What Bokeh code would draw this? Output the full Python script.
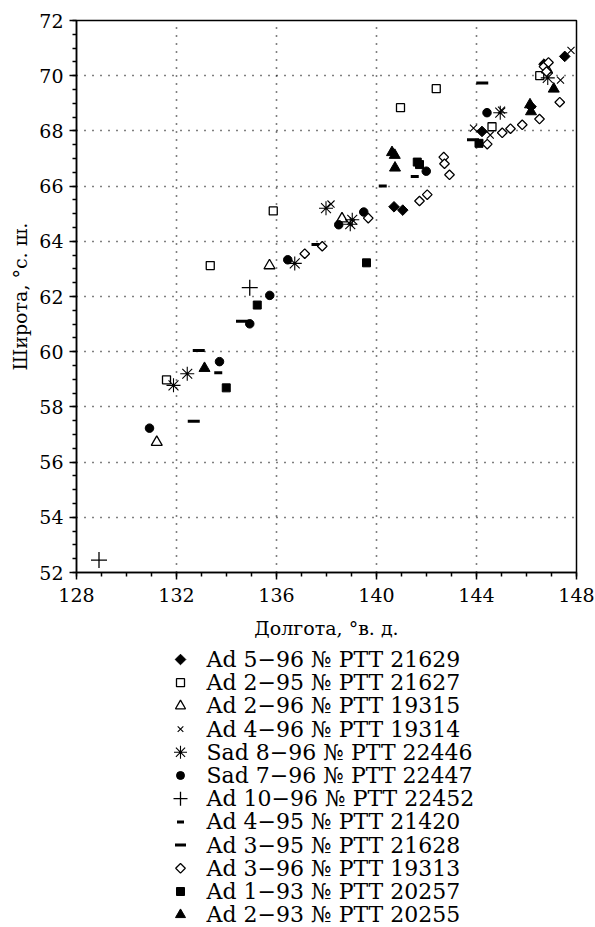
import math
from bokeh.plotting import figure
from bokeh.layouts import column
from bokeh.models import FixedTicker
from bokeh.core.properties import value
from bokeh.embed import file_html
from bokeh.resources import INLINE

FONT = "DejaVu Serif"

# ---- data (longitude °E, latitude °N) ----
ad5_96_lon = [140.70, 141.05, 144.22, 146.18, 146.70, 147.53]
ad5_96_lat = [65.25, 65.13, 67.98, 68.88, 70.42, 70.70]

ad2_95_lon = [131.60, 133.35, 135.87, 140.96, 142.39, 144.62, 146.53]
ad2_95_lat = [58.98, 63.12, 65.10, 68.84, 69.53, 68.15, 70.00]

ad2_96_lon = [131.21, 135.72, 138.62, 146.82]
ad2_96_lat = [56.72, 63.12, 64.82, 70.22]

ad4_96_lon = [138.18, 143.88, 144.55, 145.00, 147.36, 147.78]
ad4_96_lat = [65.35, 68.10, 67.85, 68.75, 69.84, 70.92]

sad8_96_lon = [131.88, 132.43, 136.73, 137.98, 139.03, 138.95, 144.95, 146.85]
sad8_96_lat = [58.78, 59.20, 63.20, 65.20, 64.78, 64.62, 68.66, 69.92]

sad7_96_lon = [130.92, 133.72, 134.93, 135.73, 136.45, 138.49, 139.49, 141.99, 144.42]
sad7_96_lat = [57.23, 59.64, 61.01, 62.04, 63.33, 64.60, 65.06, 66.54, 68.66]

ad10_96_lon = [128.90, 134.93]
ad10_96_lat = [52.45, 62.32]

ad4_95_lon = [133.67, 137.56, 140.25, 141.53]
ad4_95_lat = [59.24, 63.88, 66.00, 66.35]

ad3_95_lon = [132.69, 132.89, 134.62, 143.86, 144.23]
ad3_95_lat = [57.48, 60.04, 61.10, 67.68, 69.74]

ad3_96_lon = [137.13, 137.83, 139.67, 141.72, 142.03, 142.69, 142.72, 142.92, 144.43,
              145.03, 145.36, 145.83, 146.52, 147.33, 146.70, 146.88, 146.80]
ad3_96_lat = [63.55, 63.82, 64.84, 65.46, 65.69, 67.05, 66.81, 66.41, 67.52,
              67.93, 68.08, 68.22, 68.43, 69.04, 70.33, 70.48, 70.15]

ad1_93_lon = [133.99, 135.23, 139.60, 141.63, 141.72, 144.10]
ad1_93_lat = [58.69, 61.69, 63.22, 66.87, 66.78, 67.55]

ad2_93_lon = [133.12, 140.62, 140.73, 140.74, 146.14, 146.18, 147.09]
ad2_93_lat = [59.40, 67.22, 67.12, 66.66, 68.95, 68.70, 69.52]

x_ticks = [128, 132, 136, 140, 144, 148]
y_ticks = [52, 54, 56, 58, 60, 62, 64, 66, 68, 70, 72]

labels = [
    "Ad 5\u221296 \u2116 PTT 21629",
    "Ad 2\u221295 \u2116 PTT 21627",
    "Ad 2\u221296 \u2116 PTT 19315",
    "Ad 4\u221296 \u2116 PTT 19314",
    "Sad 8\u221296 \u2116 PTT 22446",
    "Sad 7\u221296 \u2116 PTT 22447",
    "Ad 10\u221296 \u2116 PTT 22452",
    "Ad 4\u221295 \u2116 PTT 21420",
    "Ad 3\u221295 \u2116 PTT 21628",
    "Ad 3\u221296 \u2116 PTT 19313",
    "Ad 1\u221293 \u2116 PTT 20257",
    "Ad 2\u221293 \u2116 PTT 20255",
]

ROT = math.pi / 4  # a square turned 45 degrees is drawn as a diamond

# (lon, lat, style, legend marker size)
series = [
    (ad5_96_lon, ad5_96_lat, dict(marker="square", angle=ROT, size=7.5, fill_color="black", line_color="black"), 7.5),
    (ad2_95_lon, ad2_95_lat, dict(marker="square", size=8, fill_color="white", line_color="black", line_width=1.3), 8),
    (ad2_96_lon, ad2_96_lat, dict(marker="triangle", size=11, fill_color="white", line_color="black", line_width=1.3), 10),
    (ad4_96_lon, ad4_96_lat, dict(marker="x", size=10, line_color="black", line_width=1.1), 8),
    (sad8_96_lon, sad8_96_lat, dict(marker="asterisk", size=14, line_color="black", line_width=1.1), 13),
    (sad7_96_lon, sad7_96_lat, dict(marker="circle", size=8.5, fill_color="black", line_color="black"), 8),
    (ad10_96_lon, ad10_96_lat, dict(marker="cross", size=16, line_color="black", line_width=1.3), 14),
    (ad4_95_lon, ad4_95_lat, dict(marker="dash", size=8, line_color="black", line_width=3), 7),
    (ad3_95_lon, ad3_95_lat, dict(marker="dash", size=12, line_color="black", line_width=3), 11),
    (ad3_96_lon, ad3_96_lat, dict(marker="square", angle=ROT, size=6.8, fill_color="white", line_color="black", line_width=1.3), 6.8),
    (ad1_93_lon, ad1_93_lat, dict(marker="square", size=8, fill_color="black", line_color="black"), 8),
    (ad2_93_lon, ad2_93_lat, dict(marker="triangle", size=11, fill_color="black", line_color="black"), 10),
]

# ---------------- main plot ----------------
p = figure(frame_width=500, frame_height=552,
           x_range=(128, 148), y_range=(52, 72),
           output_backend="svg", toolbar_location=None,
           min_border_left=76, min_border_top=20, min_border_right=19,
           min_border_bottom=75)
p.outline_line_color = "black"
p.outline_line_width = 1.5
p.background_fill_color = "white"
p.border_fill_color = "white"

p.xaxis.ticker = FixedTicker(ticks=x_ticks, minor_ticks=list(range(128, 149)))
p.yaxis.ticker = FixedTicker(ticks=y_ticks, minor_ticks=[52 + 0.5 * i for i in range(41)])

for ax in (p.xaxis[0], p.yaxis[0]):
    ax.axis_line_color = "black"
    ax.axis_line_width = 1.5
    ax.major_tick_line_color = "black"
    ax.major_tick_line_width = 1.5
    ax.minor_tick_line_color = "black"
    ax.minor_tick_line_width = 1.5
    ax.major_tick_in = 0
    ax.major_tick_out = 7
    ax.minor_tick_in = 0
    ax.minor_tick_out = 4
    ax.major_label_text_font = FONT
    ax.major_label_text_font_size = "19px"
    ax.major_label_text_color = "black"
    ax.axis_label_text_font = FONT
    ax.axis_label_text_font_size = "19px"
    ax.axis_label_text_font_style = "normal"
    ax.axis_label_text_color = "black"
p.xaxis.major_label_standoff = 8
p.yaxis.major_label_standoff = 6
p.xaxis.axis_label = "Долгота, °в. д."
p.yaxis.axis_label = "Широта, °с. ш."
p.xaxis.axis_label_standoff = 12
p.yaxis.axis_label_standoff = 5

for g in (p.xgrid[0], p.ygrid[0]):
    g.grid_line_color = "black"
    g.grid_line_dash = "1 7"
    g.grid_line_width = 1.6

for lon, lat, kw, _ in series:
    p.scatter(lon, lat, **kw)

# ---------------- legend panel (drawn as its own small figure) ----------------
LEG_H = 280
q = figure(frame_width=500, frame_height=LEG_H, x_range=(0, 500), y_range=(LEG_H, 0),
           x_axis_location=None, y_axis_location=None,
           output_backend="svg", toolbar_location=None,
           min_border_left=76, min_border_right=19, min_border_top=0, min_border_bottom=0)
q.outline_line_color = None
q.xgrid.visible = False
q.ygrid.visible = False
q.background_fill_color = "white"
q.border_fill_color = "white"

row0, row_step = 12.0, 23.2
mark_x, text_x = 104, 130
rows = [row0 + i * row_step for i in range(len(labels))]
for i, (lon, lat, kw, lsize) in enumerate(series):
    kw2 = dict(kw)
    kw2["size"] = lsize
    q.scatter([mark_x], [rows[i]], **kw2)
q.text(x=[text_x] * len(labels), y=rows, text=labels,
       text_font=value(FONT), text_font_size="22px",
       text_baseline="middle", text_align="left", text_color="black")

layout = column(p, q, spacing=0)
open("out.html", "w").write(file_html(layout, INLINE))
